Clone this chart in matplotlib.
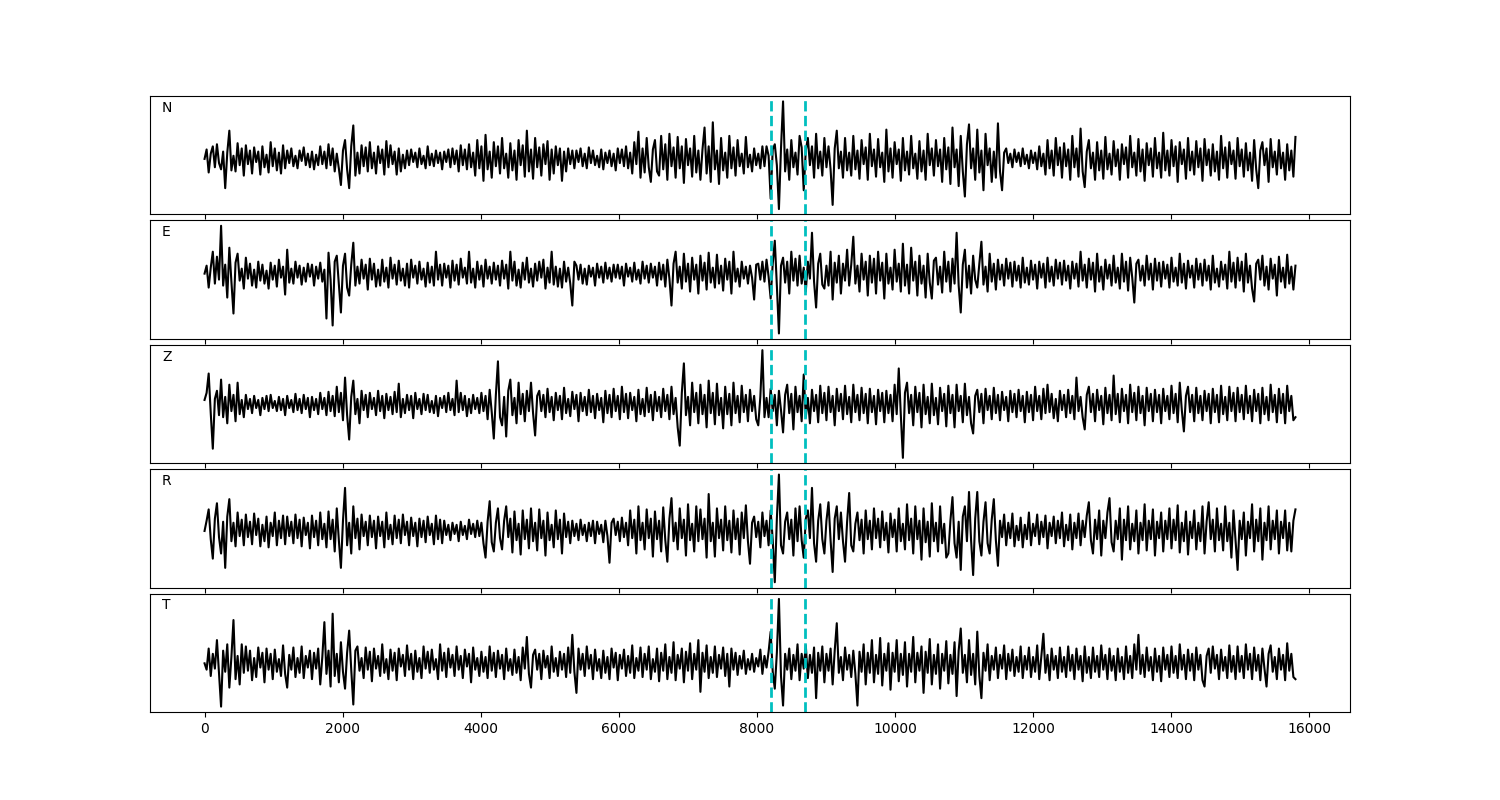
import numpy as np
import matplotlib
matplotlib.use("Agg")
import matplotlib.pyplot as plt

# trace values (one value per ~30 samples)
n_trace = [
    0, 9, -13, 5, 12, -8, 14, -4, -10, 7, -28, 6, 27, -11, 3, -12, 15, -6, 10, -16,
    13, -5, 8, -14, 11, -3, 7, -15, 12, -8, 4, -13, 16, -7, 10, -11, 6, -14, 13, -9,
    8, -4, 10, -7, 3, -9, 8, -2, 11, -6, 5, -8, 7, -10, 4, -6, 12, -5, 7, -9,
    14, -6, 10, -12, 5, -9, -25, 8, 18, -10, -28, 12, 32, -16, 6, -14, 13, -7, 11, -12,
    16, -9, 6, -14, 12, -4, 9, -15, 17, -8, 13, -5, 7, -15, 10, -12, 4, -9, 8, -6,
    9, -3, 6, -8, 10, -5, 3, -9, 12, -6, 5, -7, 8, -4, 6, -10, 7, -3, 9, -8,
    10, -5, 8, -12, 13, -6, 9, -10, 14, -8, 6, -16, 18, -9, 12, -21, 23, -10, 7, -18,
    16, -7, 12, -14, 20, -9, 5, -18, 15, -11, 8, -20, 18, -6, 13, -17, 27, -12, 9, -19,
    20, -8, 11, -16, 14, -5, 17, -20, 9, -14, 12, -6, 10, -21, 7, -12, 10, -5, 8, -9,
    8, -3, 10, -7, 5, -9, 11, -4, 8, -6, 3, -8, 9, -10, 6, -4, 8, -7, 5, -11,
    10, -4, 9, -7, 12, -9, 6, -14, 16, -5, 26, -18, 10, -13, 20, -8, -22, 9, 18, -12,
    -16, 22, -10, 14, -20, 24, -7, 11, -18, 21, -9, 12, -23, 19, -6, 10, -17, 22, -13, 8,
    -20, 9, 30, -14, 12, -22, 35, -10, 8, -24, 20, -11, 6, -18, 22, -9, 11, -16, 18, -7,
    5, -14, 21, -8, 4, -12, 10, -6, 5, -9, 12, -7, 12, 3, -38, 9, 14, -6, -48, 10,
    55, -12, 9, -20, 18, -8, 6, -15, 22, 11, -30, 8, 20, -6, 12, -18, 24, -9, 7, -16,
    20, -8, 12, -10, -44, 10, 27, -9, 7, -18, 20, -11, 6, -16, 22, -10, 8, -19, 18, -5,
    11, -20, 24, -7, 9, -17, 19, -8, 6, -22, 28, -12, 10, -18, 16, -5, 9, -21, 20, -11,
    7, -15, 22, -9, 5, -19, 17, -12, 8, -20, 24, -6, 10, -16, 18, -7, 9, -22, 20, -10,
    11, -24, 30, -8, 9, -26, 22, -12, -36, 14, 33, -9, 10, -20, 28, -13, 8, -30, 24, -6,
    10, -22, 7, -18, 34, -12, -30, 6, 10, -4, 5, -8, 9, -3, 6, -7, 10, -5, 4, -9,
    8, -4, 6, -10, 12, -7, 5, -15, 18, -9, 8, -16, 20, -6, 11, -18, 15, -7, 9, -20,
    22, -8, 10, -17, 29, -12, -27, 7, 18, -9, 6, -20, 16, -11, 8, -19, 21, -10, 5, -15,
    17, -7, 9, -20, 14, -5, 11, -18, 22, -8, 6, -16, 19, -12, 9, -21, 15, -6, 10, -17,
    20, -9, 6, -18, 25, -11, 8, -16, 18, -7, 12, -22, 16, -5, 9, -19, 20, -11, 7, -15,
    17, -8, 10, -21, 19, -6, 9, -16, 14, -12, 7, -20, 22, -9, 11, -18, 16, -5, 8, -19,
    20, -7, 9, -17, 15, -11, 6, -21, 18, -10, -28, 8, 16, -6, 10, -22, 19, -8, 7, -15,
    18, -9, 6, -20, 14, -11, 8, -17, 21,
]

e_trace = [
    0, 8, -14, 6, 22, -10, 17, -6, 48, -12, 9, -24, 26, -8, -40, 11, 20, -7, 5, -15,
    16, -5, 10, -12, 4, -14, 12, -7, 9, -10, 3, -15, 11, -6, 8, -13, 14, -4, 7, -21,
    24, -9, 5, -10, 12, -4, 8, -11, 6, -8, 10, -3, 9, -12, 7, -5, 11, -8, 4, -45,
    21, -6, -52, 12, 18, -10, -39, 8, 20, -14, -22, 9, 31, -12, 7, -10, 14, -5, 9, -16,
    15, -6, 10, -13, 4, -12, 14, -8, 6, -14, 16, -5, 9, -11, 13, -7, 5, -12, 10, -14,
    14, -4, 8, -10, 12, -6, 5, -13, 11, -9, 7, -12, 22, -6, 9, -12, 10, -4, 8, -14,
    13, -7, 9, -11, 15, -4, 6, -10, 22, -9, 5, -14, 12, -6, 8, -13, 14, -5, 7, -10,
    11, -6, 8, -12, 13, -5, 9, -15, 22, -7, 12, -12, 4, -14, 11, -6, 16, -9, 5, -13,
    10, -7, 12, -4, 14, -15, 6, -9, 22, -11, 7, -13, 5, -14, 12, -8, 6, -10, -32, 12,
    8, -6, 9, -10, 5, -11, 8, -3, 6, -12, 10, -4, 7, -9, 11, -5, 6, -8, 9, -4,
    9, -5, 7, -12, 10, -3, 6, -8, 11, -6, 4, -10, 12, -5, 8, -9, 10, -4, 7, -12,
    11, -6, 9, -13, 14, -5, -32, 10, 22, -9, 7, -15, 20, -8, 10, -18, 16, -6, 9, -20,
    18, -7, 11, -16, 21, -9, 6, -14, 19, -10, 8, -17, 15, -6, 12, -20, 22, -8, 5, -13,
    12, -5, 7, -10, 8, -4, -26, 9, 10, -6, 12, -8, 14, -3, -25, 10, 33, -12, -60, 8,
    16, -9, 12, -20, 22, -7, 15, -12, 18, -10, 6, -18, 12, -5, 41, -8, -34, 10, 20, -11,
    -15, 8, -12, 22, -26, 11, -9, 18, -20, 10, -7, 24, -12, 9, 37, -10, 8, -18, 20, -6,
    12, -22, 18, -9, 15, -20, 22, -7, 11, -25, 20, -10, 6, -16, 24, -8, 10, -18, 30, -12,
    9, -20, 26, -7, 12, -22, 18, -10, 8, -24, 20, -9, -25, 13, 16, -11, 7, -19, 22, -8,
    12, -18, 15, -10, 41, -12, -39, 9, 24, -14, 8, -20, 18, -6, -14, 10, 32, -11, 7, -18,
    20, -8, 10, -16, 14, -6, 9, -12, 15, -5, 11, -13, 12, -7, 8, -14, 16, -9, 6, -11,
    13, -6, 9, -15, 12, -4, 10, -14, 16, -8, 7, -12, 14, -5, 11, -11, 13, -7, 8, -15,
    12, -5, 10, -13, 22, -7, 9, -14, 15, -6, 11, -18, 20, -8, 7, -16, 14, -5, 9, -12,
    18, -9, 6, -15, 20, -8, 12, -17, 16, -4, -29, 10, 14, -7, 8, -12, 18, -6, 10, -16,
    15, -7, 11, -13, 12, -5, 9, -14, 16, -8, 6, -12, 20, -9, 10, -15, 13, -4, 8, -14,
    15, -6, 10, -12, 14, -7, 8, -16, 18, -9, 5, -13, 12, -6, 9, -15, 22, -8, 11, -14,
    16, -7, 12, -18, 20, -9, 8, -15, -28, 10, 14, -6, 18, -12, 7, -16, 15, -5, 9, -22,
    17, -8, 6, -14, 19, -10, 7, -16, 8,
]

z_trace = [
    5, 12, 31, -8, -43, 6, 14, -10, 25, -12, 8, -18, 20, -6, 10, -16, 22, -9, 5, -12,
    10, -4, 6, -8, 9, -3, 5, -10, 7, -4, 9, -6, 10, -3, 4, -6, 8, -5, 6, -10,
    9, -3, 5, -7, 11, -5, 6, -8, 10, -4, 7, -12, 8, -5, 6, -9, 12, -4, 7, -10,
    13, -6, 9, -11, 18, -7, 12, -15, 27, -10, -34, 8, 24, -9, 6, -18, 14, -5, 10, -12,
    12, -4, 7, -10, 14, -6, 9, -13, 11, -5, 8, -9, 13, -7, 21, -12, 6, -8, 10, -5,
    9, -13, 12, -4, 6, -9, 11, -5, 10, -7, 4, -8, 9, -11, 7, -3, 9, -7, 12, -5,
    6, -10, 24, -7, 12, -5, 9, -11, 6, -8, 10, -4, 7, -8, 12, -6, 9, -14, 15, -7,
    -33, 10, 43, -12, -20, 8, -31, 14, 25, -10, 7, -18, 22, -9, 11, -16, 14, -6, 22, -8,
    -30, 9, 14, -6, 10, -12, 16, -7, 8, -15, 12, -5, 9, -14, 17, -8, 6, -11, 13, -4,
    10, -16, 12, -6, 8, -10, 15, -7, 9, -13, 11, -5, 7, -17, 14, -8, 10, -12, 16, -6,
    9, -14, 18, -7, 11, -13, 12, -5, 8, -16, 15, -9, 6, -11, 17, -7, 10, -15, 13, -6,
    8, -12, 16, -6, 10, -14, 18, -9, 7, -22, -40, 12, 41, -10, 8, -20, 22, -7, 12, -18,
    20, -9, 10, -22, 24, -8, 12, -19, 21, -10, 7, -23, 18, -9, 11, -20, 22, -8, 9, -17,
    19, -7, 10, -16, 15, -6, 9, -14, -20, 8, 54, -12, 7, -12, 16, -6, 10, -20, 14, -5,
    -27, 10, 20, -8, 11, -24, 18, -7, 9, -16, 30, -12, 7, -18, 15, -6, 10, -17, 19, -8,
    12, -15, 18, -7, 9, -20, 16, -6, 11, -14, 19, -9, 8, -17, 20, -7, 10, -15, 17, -8,
    11, -18, 16, -7, 9, -19, 15, -6, 12, -17, 14, -8, 10, -16, 20, -9, 36, -10, -52, 12,
    22, -8, 10, -20, 18, -7, 12, -22, 20, -9, 8, -18, 21, -10, 7, -19, 17, -6, 11, -21,
    19, -8, 10, -22, 20, -6, 9, -17, 21, -10, 8, -18, -28, 9, 15, -7, 11, -18, 16, -5,
    9, -14, 17, -8, 10, -15, 13, -5, 8, -16, 14, -7, 11, -12, 15, -6, 9, -17, 13, -7,
    10, -15, 18, -6, 9, -14, 16, -8, 20, -7, 11, -13, 6, -16, 14, -5, 10, -12, 15, -8,
    9, -14, 27, -6, 8, -12, -24, 10, 18, -7, 11, -16, 15, -5, 9, -19, 17, -8, 10, -15,
    29, -9, 11, -17, 16, -6, 10, -18, 20, -7, 12, -15, 18, -8, 9, -20, 17, -6, 11, -16,
    15, -7, 10, -18, 16, -6, 9, -14, 19, -8, 11, -17, 22, -5, -26, 9, 18, -7, 10, -16,
    17, -8, 9, -15, 14, -6, 11, -18, 16, -7, 10, -17, 19, -9, 8, -15, 18, -6, 12, -16,
    17, -7, 10, -14, 19, -8, 9, -16, 15, -6, 11, -18, 17, -9, 8, -15, 20, -7, 10, -17,
    16, -8, 11, -18, 19, -6, 9, -15, -12,
]

r_trace = [
    0, 10, 21, -8, -27, 12, 27, -6, -22, 9, -36, 14, 31, -10, 8, -15, 18, -5, 11, -14,
    16, -6, 9, -13, 17, -4, 12, -15, 6, -10, 14, -16, 8, -5, 18, -14, 10, -7, 15, -13,
    14, -5, 9, -12, 16, -7, 11, -15, 13, -4, 8, -17, 15, -6, 10, -14, 18, -8, 7, -16,
    19, -8, 11, -20, 22, -9, -36, 10, 42, -14, 8, -22, 24, -7, 12, -18, 16, -5, 9, -14,
    15, -6, 10, -17, 14, -5, 9, -16, 18, -8, 6, -13, 15, -7, 11, -12, 16, -4, 9, -14,
    13, -5, 8, -15, 12, -6, 10, -11, 14, -4, 7, -13, 15, -8, 11, -12, 10, -4, 6, -9,
    8, -3, 6, -10, 9, -4, 5, -8, 11, -3, 7, -6, 10, -5, 8, -12, -26, 9, 29, -11,
    -20, 8, 22, -7, -18, 10, 24, -6, 12, -21, 19, -9, 7, -23, 20, -8, 11, -17, 22, -10,
    8, -19, 21, -7, 10, -24, 18, -9, 6, -16, 20, -8, 11, -22, 17, -6, 9, -12, 10, -5,
    7, -9, 11, -4, 6, -10, 8, -5, 10, -12, 9, -3, 6, -11, 10, -5, -31, 8, 12, -4,
    9, -10, 13, -6, 8, -14, 20, -7, 11, -22, 24, -9, 8, -18, 21, -7, 12, -25, 19, -8,
    10, -20, 23, -9, -30, 12, 32, -10, 8, -18, 22, -7, 11, -24, 26, -9, 7, -20, 24, -10,
    21, -8, 12, -26, 36, -10, 8, -25, 22, -7, 11, -19, 24, -9, 10, -21, 20, -8, 12, -23,
    18, -7, 25, -10, -32, 8, 14, -6, 9, -16, 18, -5, 10, -14, 20, -9, -50, 12, 55, -14,
    -22, 9, 18, -8, 11, -24, 22, -10, 24, -9, -26, 12, 20, -7, 42, -12, -30, 10, 26, -8,
    -22, 10, 28, -9, -40, 12, 24, -8, 18, -10, -30, 9, 37, -14, -20, 7, 18, -9, 11, -22,
    20, -8, 10, -18, 22, -7, 12, -16, 19, -9, 8, -21, 17, -6, 11, -20, 22, -10, 7, -18,
    26, -9, 12, -22, 24, -8, 10, -28, 22, -11, 9, -25, 27, -10, 8, -20, 24, -12, 7, -26,
    -22, 10, 33, -12, -26, 9, -38, 14, 24, -10, 38, -9, -43, 12, 38, -10, -24, 9, 28, -12,
    -22, 11, 31, -9, -34, 10, -6, 16, -14, 8, -7, 17, -15, 5, -9, 13, -16, 6, -8, 18,
    -14, 7, -5, 16, -13, 9, -6, 15, -17, 8, -5, 14, -12, 10, -7, 18, -15, 6, -9, 16,
    -18, 8, -7, 17, -14, 10, -6, 15, 28, -9, -22, 11, -8, 20, -24, 10, -7, 18, 32, -11,
    -20, 10, -8, 22, -28, 11, -9, 24, -18, 7, -10, 20, -22, 8, -9, 26, -19, 10, -8, 21,
    -24, 9, -7, 18, -20, 10, -8, 22, -17, 11, -9, 25, -21, 8, -10, 19, -23, 9, -7, 20,
    -18, 8, -10, 24, -22, 9, 28, -8, 11, -20, 22, -9, 7, -19, 24, -10, 8, -26, 20, -9,
    -38, 10, -8, 18, -24, 9, -7, 26, -20, 11, -10, 22, -28, 8, -9, 24, -18, 10, -8, 20,
    -22, 9, -7, 20, -19, 8, -20, 10, 21,
]

t_trace = [
    0, -6, 14, -12, 9, -5, 22, -10, -41, 12, -8, 18, -23, 6, 41, -15, 7, -20, 18, -9,
    16, -7, 12, -16, 5, -13, 15, -4, 10, -18, 14, -6, 9, -15, 13, -8, 4, -12, 17, -10,
    -23, 8, -6, 15, -13, 5, -9, 16, -14, 7, -4, 12, -15, 10, -5, 14, -20, 6, 39, -10,
    12, -22, 47, -12, 9, -18, 20, -8, -24, 10, 31, -6, -39, 12, 16, -7, 5, -14, 15, -6,
    11, -17, 14, -5, 7, -12, 18, -9, 4, -15, 13, -7, 10, -16, 14, -3, 8, -12, 17, -6,
    9, -15, 12, -8, 5, -14, 16, -5, 11, -9, 13, -6, 4, -15, 18, -7, 10, -13, 14, -4,
    8, -12, 16, -6, 7, -14, 13, -3, 9, -18, 15, -6, 5, -12, 11, -8, 6, -14, 16, -7,
    10, -13, 12, -5, 8, -15, 14, -7, 4, -11, 13, -9, 6, -16, 15, -5, 25, -10, -23, 8,
    13, -6, 9, -15, 12, -4, 7, -14, 16, -8, 5, -12, 11, -6, 9, -13, 15, -9, 27, -8,
    -28, 14, -6, 9, -12, 16, -5, 8, -15, 13, -7, 4, -14, 12, -9, 6, -15, 14, -4, 10,
    -16, 8, -5, 13, -12, 7, -9, 17, -14, 5, -7, 15, -13, 9, -6, 16, -15, 4, -8, 14,
    -17, 10, -7, 18, -15, 6, -9, 20, -16, 8, -5, 14, -18, 11, -7, 19, -15, 9, -6, 22,
    -27, 10, -8, 17, -14, 6, -9, 16, -13, 8, -5, 15, -12, 9, -22, 14, -6, 10, -11, 7,
    -5, 12, -10, 4, -6, 9, -8, 5, -3, 13, -10, 7, -4, 11, 30, -8, -24, 10, 61, -12,
    -40, 9, -6, 14, -15, 8, -7, 18, -16, 9, -5, 17, -14, 8, -9, 15, -33, 10, -7, 16,
    -18, 9, -7, 14, -20, 12, 38, -9, 6, -16, 15, -6, 8, -13, 12, -10, -40, 11, -8, 18,
    -20, 10, -9, 22, -18, 8, -10, 24, -21, 9, -7, 19, -25, 10, -8, 22, -17, 9, -11, 20,
    -22, 9, -8, 25, -18, 10, -7, 16, -28, 11, -9, 23, -20, 8, -10, 18, -24, 9, -7, 21,
    -19, 8, -10, 20, -31, 12, 33, -9, 8, -18, 22, -11, 9, -20, 30, -12, -33, 10, -7, 18,
    -16, 7, -6, 15, -14, 8, -5, 17, -15, 9, -7, 13, -12, 6, -8, 16, -14, 7, -6, 15,
    -13, 6, -8, 17, -15, 7, 28, -9, 8, -16, 14, -6, 7, -14, 15, -8, 6, -13, 16, -7,
    8, -15, 14, -6, 7, -17, 16, -9, 6, -14, 15, -8, 7, -13, 17, -6, 8, -15, 14, -7,
    7, -16, 14, -8, 6, -15, 16, -9, 7, -14, 18, -6, 27, -10, 8, -13, 15, -7, 6, -16,
    14, -8, 7, -17, 15, -6, 8, -13, 16, -9, 7, -14, 18, -6, 8, -15, 13, -7, 9, -16,
    15, -6, 8, -16, -22, 7, 14, -9, 16, -5, 8, -15, 13, -7, 6, -14, 17, -8, 7, -15,
    16, -8, 7, -14, 18, -6, 9, -15, 15, -7, 8, -16, 14, -5, -22, 9, 17, -8, 6, -15,
    14, -6, 8, -16, 19, -7, 9, -13, -15,
]

channels = ["N", "E", "Z", "R", "T"]
traces = [n_trace, e_trace, z_trace, r_trace, t_trace]
n_samples = 15800
picks = [8200, 8700]

fig, axes = plt.subplots(5, 1, figsize=(15, 8), dpi=100, sharex=True)
fig.subplots_adjust(left=0.1, right=0.9, top=0.88, bottom=0.11, hspace=0.05)

for ax, name, tr in zip(axes, channels, traces):
    t = np.linspace(0, n_samples, len(tr))
    ax.plot(t, tr, color="k", lw=1.5)
    for p in picks:
        ax.axvline(p, color="c", ls="--", lw=2)
    ax.set_yticks([])
    ax.text(0.01, 0.9, name, transform=ax.transAxes, ha="left", va="center", fontsize=10)

fig.savefig("out.png")
